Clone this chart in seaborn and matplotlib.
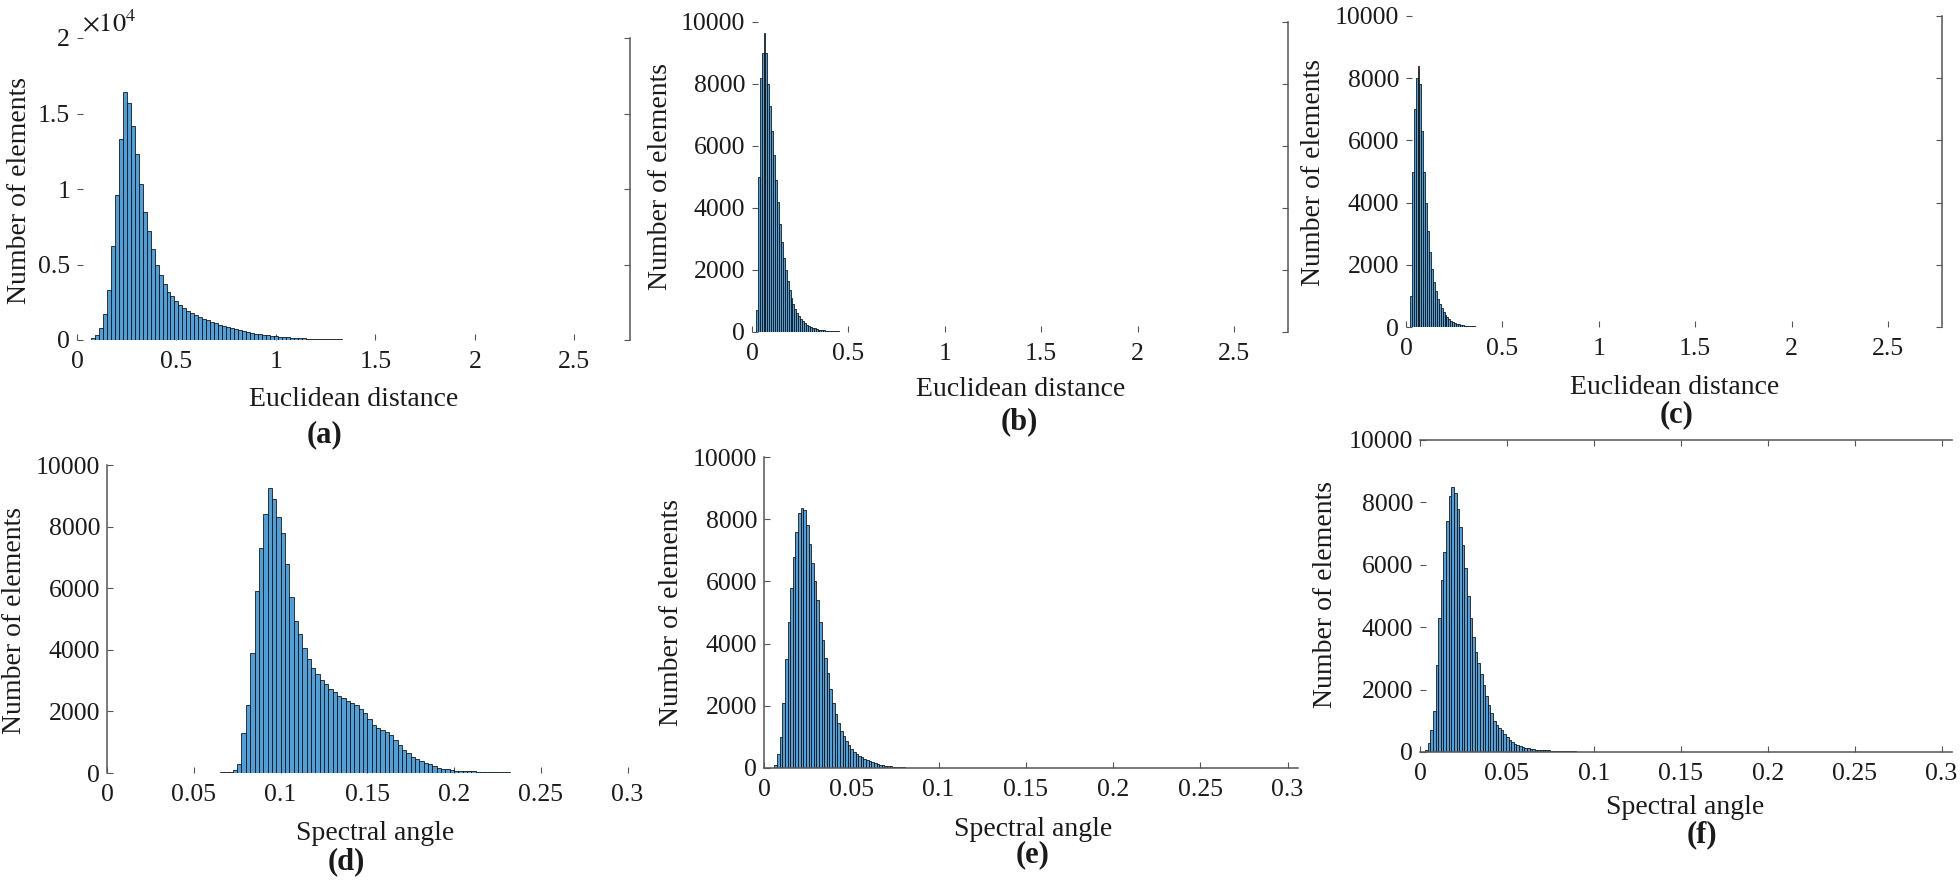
import numpy as np
import pandas as pd
import matplotlib
matplotlib.use("Agg")
import matplotlib.pyplot as plt
import seaborn as sns

# ---------------- data (histogram bins: start, width, counts) ----------------
a_start, a_width = 0.07, 0.02
a_counts = [150, 350, 800, 1700, 3300, 6200, 9600, 13300, 16400, 15700,
            14200, 12300, 10300, 8500, 7200, 6000, 5000, 4300, 3700, 3200,
            2900, 2600, 2350, 2150, 1950, 1800, 1650, 1500, 1400, 1300,
            1200, 1100, 1000, 920, 850, 780, 700, 640, 580, 520,
            470, 420, 380, 340, 300, 270, 240, 210, 190, 170,
            150, 130, 115, 100, 90, 80, 70, 62, 55, 50,
            45, 40, 36, 33, 30, 28, 25]

b_start, b_width = 0.02, 0.01
b_counts = [700, 5000, 8200, 9000, 9650, 9000, 8000, 7300, 6500, 5700,
            4900, 4200, 3500, 2900, 2400, 2000, 1650, 1350, 1100, 900,
            750, 620, 510, 420, 350, 290, 240, 200, 165, 140,
            115, 95, 80, 68, 58, 50, 43, 37, 32, 28,
            24, 21, 18, 16, 14, 12, 10, 9, 8, 7,
            6, 5, 5, 4, 4]

c_start, c_width = 0.02, 0.01
c_counts = [1000, 5000, 7000, 8000, 8400, 7800, 6300, 5000, 4000, 3100,
            2400, 1850, 1450, 1150, 900, 740, 610, 490, 390, 310,
            250, 200, 160, 130, 105, 85, 70, 58, 48, 40,
            33, 27, 22, 18, 15, 12, 10, 8]

d_start, d_width = 0.065, 0.0025
d_counts = [20, 30, 45, 90, 300, 1300, 2200, 3900, 5900, 7300,
            8400, 9250, 8900, 8300, 7800, 6800, 5700, 4950, 4500, 4050,
            3700, 3420, 3200, 3020, 2880, 2740, 2620, 2510, 2420, 2340,
            2280, 2200, 2080, 1940, 1760, 1560, 1450, 1390, 1340, 1250,
            1060, 900, 760, 640, 530, 450, 390, 330, 280, 230,
            175, 140, 115, 95, 80, 70, 62, 55, 50, 45,
            40, 36, 32, 28, 24, 21, 18, 16, 14, 13,
            12, 11, 10, 10]

e_start, e_width = 0.006, 0.0015
e_counts = [100, 450, 1000, 2100, 3500, 4700, 5800, 6800, 7600, 8200,
            8350, 8300, 7800, 7200, 6600, 6000, 5400, 4700, 4100, 3550,
            3050, 2550, 2100, 1750, 1450, 1200, 1020, 880, 750, 620,
            520, 450, 390, 340, 290, 250, 210, 180, 155, 130,
            110, 95, 80, 68, 56, 46, 38, 32, 26, 20,
            15, 10]

f_start, f_width = 0.003, 0.0015
f_counts = [60, 300, 700, 1300, 2800, 4300, 5500, 6400, 7400, 8200,
            8500, 8300, 7800, 7200, 6650, 5900, 5000, 4300, 3700, 3200,
            2850, 2500, 2150, 1800, 1500, 1250, 1000, 880, 780, 690,
            580, 470, 380, 310, 260, 220, 185, 155, 130, 115,
            100, 90, 80, 72, 65, 60, 55, 50, 46, 42,
            38, 35, 32, 29, 26, 23, 20, 17, 14, 12,
            10, 8, 6, 5]

# tick values / labels
ed_xticks = [0, 0.5, 1, 1.5, 2, 2.5]
ed_xticklabels = ["0", "0.5", "1", "1.5", "2", "2.5"]
sa_xticks = [0, 0.05, 0.1, 0.15, 0.2, 0.25, 0.3]
sa_xticklabels = ["0", "0.05", "0.1", "0.15", "0.2", "0.25", "0.3"]
a_yticks = [0, 5000, 10000, 15000, 20000]
a_yticklabels = ["0", "0.5", "1", "1.5", "2"]
n_yticks = [0, 2000, 4000, 6000, 8000, 10000]
n_yticklabels = ["0", "2000", "4000", "6000", "8000", "10000"]

ylabel_text = "Number of elements"
ed_label = "Euclidean distance"
sa_label = "Spectral angle"
panel_letters = ["(a)", "(b)", "(c)", "(d)", "(e)", "(f)"]

# ---------------- style ----------------
sns.set_theme(style="white")
plt.rcParams["font.family"] = ["Liberation Serif", "DejaVu Serif"]
plt.rcParams["mathtext.fontset"] = "stix"

FACE = "#4f9fd9"
EDGE = "#0a0a0a"
SPINE = "#555555"
TXT = "#1a1a1a"

W, H = 1960, 885
fig = plt.figure(figsize=(W / 100, H / 100), dpi=100)
fig.patch.set_facecolor("white")

# layout in pixels: left, right, bottom, top
layout = [
    (77, 630, 340, 38),
    (752, 1288, 332, 22),
    (1406, 1942, 327, 16),
    (107, 638, 773, 465),
    (764, 1298, 768, 457),
    (1420, 1952, 752, 440),
]
visible_spines = [
    ("right",), ("right",), ("right",),
    ("left",), ("left", "bottom"), ("top", "bottom"),
]
xlabel_pos = [(354, 400), (1021, 390), (1675, 387), (375, 833), (1033, 830), (1685, 808)]
ylabel_pos = [(19, 190), (660, 177), (1313, 172), (14, 620), (671, 612), (1325, 595)]
letter_pos = [(325, 435), (1019, 422), (1677, 415), (346, 862), (1033, 855), (1702, 835)]

hists = [
    (a_start, a_width, a_counts),
    (b_start, b_width, b_counts),
    (c_start, c_width, c_counts),
    (d_start, d_width, d_counts),
    (e_start, e_width, e_counts),
    (f_start, f_width, f_counts),
]

for i, (start, width, counts) in enumerate(hists):
    l, r, b, t = layout[i]
    ax = fig.add_axes([l / W, 1 - b / H, (r - l) / W, (b - t) / H])
    counts = np.asarray(counts, dtype=float)
    n = len(counts)
    centers = start + width * (np.arange(n) + 0.5)
    df = pd.DataFrame({"value": centers, "count": counts})
    sns.histplot(data=df, x="value", weights="count", binwidth=width,
                 binrange=(start, start + width * n), ax=ax,
                 color=FACE, edgecolor=EDGE, linewidth=0.55, alpha=1.0)
    row1 = i < 3
    if row1:
        ax.set_xlim(0, 2.78)
        ax.set_xticks(ed_xticks)
        ax.set_xticklabels(ed_xticklabels)
        xl = ed_label
    else:
        ax.set_xlim(0, 0.306)
        ax.set_xticks(sa_xticks)
        ax.set_xticklabels(sa_xticklabels)
        xl = sa_label
    if i == 0:
        ax.set_ylim(0, 20000)
        ax.set_yticks(a_yticks)
        ax.set_yticklabels(a_yticklabels)
        ax.text(0.058, 1.05, r"$\times10^{4}$", transform=ax.transAxes,
                ha="center", va="center", fontsize=19, color=TXT)
    else:
        ax.set_ylim(0, 10000)
        ax.set_yticks(n_yticks)
        ax.set_yticklabels(n_yticklabels)

    vis = visible_spines[i]
    for side in ["left", "right", "top", "bottom"]:
        ax.spines[side].set_visible(side in vis)
        ax.spines[side].set_color(SPINE)
        ax.spines[side].set_linewidth(1.1)

    ax.tick_params(axis="both", direction="in", length=4, width=0.8,
                   color=SPINE, labelsize=18.5, labelcolor=TXT,
                   left=True, bottom=True,
                   top=("top" in vis), right=("right" in vis))
    ax.tick_params(axis="x", pad=8)
    ax.tick_params(axis="y", pad=5)
    ax.grid(False)
    ax.set_facecolor("none")

    ax.set_xlabel(xl, fontsize=20, color=TXT, va="center", ha="center")
    ax.set_ylabel(ylabel_text, fontsize=20, color=TXT, va="center", ha="center")
    xx, xy = xlabel_pos[i]
    ax.xaxis.set_label_coords((xx - l) / (r - l), (b - xy) / (b - t))
    yx, yy = ylabel_pos[i]
    ax.yaxis.set_label_coords((yx - l) / (r - l), (b - yy) / (b - t))

    lx, ly = letter_pos[i]
    fig.text(lx / W, 1 - ly / H, panel_letters[i], ha="center", va="center",
             fontsize=22, fontweight="bold", color=TXT)

fig.savefig("out.png", dpi=100, facecolor="white")
